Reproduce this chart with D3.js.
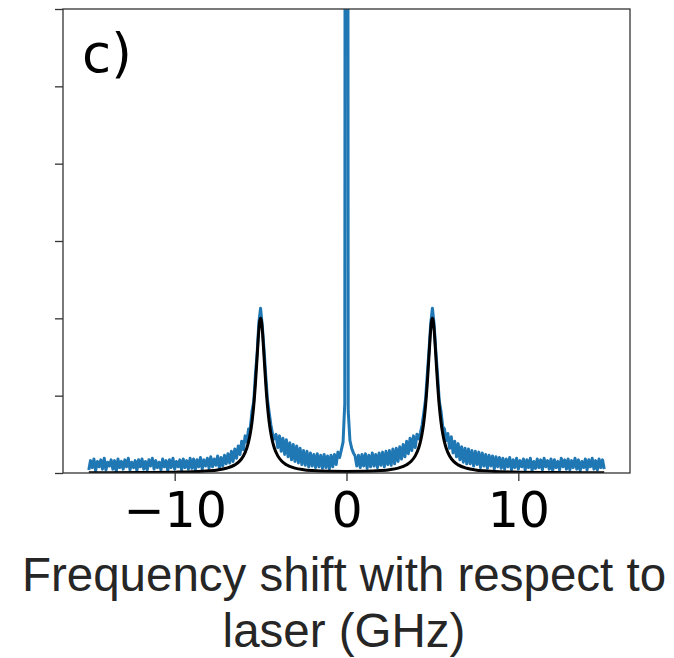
<!DOCTYPE html>
<html>
<head>
<meta charset="utf-8">
<script src="https://cdn.jsdelivr.net/npm/d3@7"></script>
<style>
  html, body { margin: 0; padding: 0; background: #ffffff; }
  svg { display: block; }
</style>
</head>
<body>
<svg id="chart" width="674" height="658"></svg>
<script>
// Measured spectrum, sampled every 0.1 GHz from -15 GHz to +15 GHz
const spectrumStart = -15;
const spectrumStep = 0.1;
const spectrumIntensity = [
  // -15.0 .. -9.1
  0.04,0.16, 0.07,0.18, 0.03,0.15, 0.08,0.17, 0.05,0.19, 0.04,0.14, 0.09,0.17, 0.05,0.16, 0.02,0.18, 0.07,0.15,
  0.05,0.17, 0.08,0.19, 0.04,0.14, 0.07,0.16, 0.03,0.17, 0.08,0.18, 0.05,0.15, 0.04,0.17, 0.09,0.19, 0.05,0.16,
  0.07,0.14, 0.04,0.18, 0.08,0.16, 0.03,0.17, 0.07,0.19, 0.05,0.15, 0.08,0.17, 0.04,0.18, 0.07,0.16, 0.05,0.19,
  // -9.0 .. -7.1
  0.06,0.18, 0.04,0.17, 0.08,0.20, 0.05,0.17, 0.09,0.19, 0.06,0.21, 0.08,0.18, 0.10,0.22, 0.06,0.20, 0.09,0.23,
  // -7.0 .. -6.1
  0.12,0.25, 0.13,0.28, 0.15,0.31, 0.19,0.35, 0.24,0.41,
  // -6.0 .. -5.1
  0.30,0.48, 0.40,0.57, 0.58,0.80, 0.92,1.28, 1.55,1.95,
  // -5.0
  2.13,
  // -4.9 .. -4.0
  1.90,1.60, 1.26,0.95, 0.78,0.62, 0.50,0.44, 0.50,0.33,
  // -3.9 .. -3.0
  0.48,0.28, 0.45,0.24, 0.43,0.21, 0.39,0.17, 0.37,0.15,
  // -2.9 .. -1.0
  0.35,0.13, 0.32,0.11, 0.29,0.10, 0.28,0.08, 0.26,0.09,
  0.24,0.07, 0.25,0.08, 0.23,0.06, 0.24,0.07, 0.22,0.05,
  // -0.9 .. -0.5
  0.23,0.08, 0.24,0.11, 0.27,
  // -0.4 .. 0.5 : elastic line
  0.20, 0.30, 0.40, 0.90, 40, 0.80, 0.42, 0.32, 0.26, 0.22,
  // 0.6 .. 2.9
  0.09,0.23, 0.07,0.24, 0.09,0.25, 0.06,0.23, 0.08,0.26,
  0.09,0.24, 0.07,0.26, 0.10,0.27, 0.08,0.28, 0.11,0.29,
  0.10,0.31, 0.12,0.32,
  // 3.0 .. 4.0
  0.15,0.34, 0.18,0.37, 0.21,0.41, 0.25,0.45, 0.29,0.48, 0.33,
  // 4.1 .. 4.9
  0.50,0.44, 0.52,0.62, 0.78,0.95, 1.27,1.58, 1.93,
  // 5.0
  2.13,
  // 5.1 .. 6.0
  1.92,1.57, 1.27,0.93, 0.80,0.60, 0.57,0.42, 0.51,0.32,
  // 6.1 .. 7.0
  0.47,0.26, 0.41,0.21, 0.38,0.17, 0.34,0.14, 0.32,0.12,
  // 7.1 .. 9.0
  0.31,0.12, 0.29,0.09, 0.28,0.11, 0.27,0.07, 0.26,0.09,
  0.24,0.06, 0.23,0.09, 0.22,0.05, 0.21,0.08, 0.20,0.06,
  // 9.1 .. 15.0
  0.19,0.05, 0.18,0.08, 0.20,0.04, 0.17,0.07, 0.19,0.05, 0.16,0.08, 0.18,0.04, 0.17,0.07, 0.19,0.03, 0.15,0.06,
  0.18,0.07, 0.17,0.04, 0.19,0.08, 0.16,0.05, 0.18,0.03, 0.17,0.07, 0.15,0.04, 0.19,0.08, 0.17,0.05, 0.18,0.04,
  0.16,0.07, 0.19,0.05, 0.17,0.03, 0.15,0.07, 0.18,0.04, 0.17,0.08, 0.19,0.05, 0.16,0.04, 0.18,0.07, 0.17,0.05
];

// Fitted Brillouin doublet
const fitFreq = [
  -15, -12, -10, -9, -8, -7.5, -7, -6.5, -6.25, -6,
  -5.8, -5.7, -5.6, -5.5, -5.4, -5.3, -5.2, -5.1, -5.05, -5,
  -4.95, -4.9, -4.8, -4.7, -4.6, -4.5, -4.4, -4.3, -4.2, -4,
  -3.75, -3.5, -3, -2.5, -2, -1, 0,
  1, 2, 2.5, 3, 3.5, 3.75, 4, 4.2, 4.3, 4.4,
  4.5, 4.6, 4.7, 4.8, 4.9, 4.95, 5, 5.05, 5.1, 5.2,
  5.3, 5.4, 5.5, 5.6, 5.7, 5.8, 6, 6.25, 6.5, 7,
  7.5, 8, 9, 10, 12, 15
];
const fitIntensity = [
  0.003, 0.006, 0.011, 0.016, 0.028, 0.040, 0.061, 0.105, 0.147, 0.220,
  0.323, 0.402, 0.510, 0.660, 0.869, 1.155, 1.510, 1.851, 1.962, 2.002,
  1.962, 1.851, 1.510, 1.155, 0.869, 0.660, 0.510, 0.402, 0.323, 0.221,
  0.148, 0.106, 0.063, 0.043, 0.032, 0.022, 0.020,
  0.022, 0.032, 0.043, 0.063, 0.106, 0.148, 0.221, 0.323, 0.402, 0.510,
  0.660, 0.869, 1.155, 1.510, 1.851, 1.962, 2.002, 1.962, 1.851, 1.510,
  1.155, 0.869, 0.660, 0.510, 0.402, 0.323, 0.220, 0.147, 0.105, 0.061,
  0.040, 0.028, 0.016, 0.011, 0.006, 0.003
];

const xTickValues = [-10, 0, 10];
const yTickValues = [0, 1, 2, 3, 4, 5, 6];
const xDomain = [-16.5, 16.5];
const yDomain = [0, 6];
const panelLabel = "c)";
const xLabelLines = ["Frequency shift with respect to", "laser (GHz)"];

// Layout
const plot = { left: 63, right: 630, top: 9, bottom: 473 };
const spineColor = "#333333";

const svg = d3.select("#chart");

const x = d3.scaleLinear().domain(xDomain).range([plot.left, plot.right]);
const y = d3.scaleLinear().domain(yDomain).range([plot.bottom, plot.top]);

svg.append("defs").append("clipPath").attr("id", "plot-clip")
  .append("rect")
  .attr("x", plot.left).attr("y", plot.top)
  .attr("width", plot.right - plot.left).attr("height", plot.bottom - plot.top);

const spectrum = spectrumIntensity.map((v, i) => ({ f: spectrumStart + i * spectrumStep, v }));
const fit = fitFreq.map((f, i) => ({ f, v: fitIntensity[i] }));

const data = svg.append("g").attr("clip-path", "url(#plot-clip)");

data.append("path")
  .datum(spectrum)
  .attr("fill", "none")
  .attr("stroke", "#1f77b4")
  .attr("stroke-width", 3)
  .attr("stroke-linejoin", "round")
  .attr("d", d3.line().x(d => x(d.f)).y(d => y(d.v)));

data.append("path")
  .datum(fit)
  .attr("fill", "none")
  .attr("stroke", "#000000")
  .attr("stroke-width", 3)
  .attr("stroke-linejoin", "round")
  .attr("d", d3.line().curve(d3.curveMonotoneX).x(d => x(d.f)).y(d => y(d.v)));

// Axes
const xAxis = svg.append("g")
  .attr("transform", `translate(0,${plot.bottom})`)
  .call(d3.axisBottom(x).tickValues(xTickValues).tickSize(8).tickPadding(10)
    .tickFormat(d => d < 0 ? "\u2212" + Math.abs(d) : String(d)));
xAxis.select(".domain").remove();
xAxis.selectAll(".tick line").attr("stroke", spineColor).attr("stroke-width", 1.3);
xAxis.selectAll(".tick text")
  .attr("fill", "#000")
  .attr("font-family", "'DejaVu Sans', sans-serif")
  .attr("font-size", 49)
  .attr("dy", null)
  .attr("y", 54);

const yAxis = svg.append("g")
  .attr("transform", `translate(${plot.left},0)`)
  .call(d3.axisLeft(y).tickValues(yTickValues).tickSize(8).tickFormat(""));
yAxis.select(".domain").remove();
yAxis.selectAll(".tick line").attr("stroke", spineColor).attr("stroke-width", 1.3);

// Frame
svg.append("rect")
  .attr("x", plot.left).attr("y", plot.top)
  .attr("width", plot.right - plot.left).attr("height", plot.bottom - plot.top)
  .attr("fill", "none")
  .attr("stroke", spineColor)
  .attr("stroke-width", 1.3);

// Panel label
svg.append("text")
  .attr("x", 82).attr("y", 72)
  .attr("font-family", "'DejaVu Sans', sans-serif")
  .attr("font-size", 53)
  .attr("fill", "#000")
  .text(panelLabel);

// Axis title
svg.append("text")
  .attr("text-anchor", "middle")
  .attr("font-family", "'Liberation Sans', Arial, sans-serif")
  .attr("font-size", 47.5)
  .attr("fill", "#262626")
  .selectAll("tspan")
  .data(xLabelLines)
  .join("tspan")
  .attr("x", 344)
  .attr("y", (d, i) => 591 + i * 56)
  .text(d => d);
</script>
</body>
</html>
